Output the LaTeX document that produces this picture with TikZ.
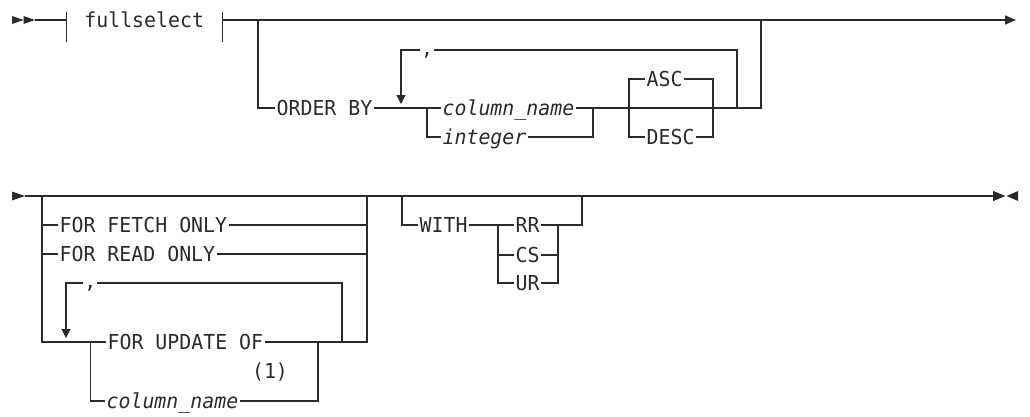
\documentclass[tikz,border=0pt]{standalone}
\usepackage{fontspec}
\setmonofont{DejaVu Sans Mono}[FakeStretch=0.965]
\usepackage{tikz}
\usetikzlibrary{arrows.meta,calc}
\definecolor{ink}{HTML}{2B2B2B}

\begin{document}
\begin{tikzpicture}[x=1pt,y=-1pt,color=ink,line width=1.2pt,
  kw/.style={font=\fontsize{20.6}{23}\selectfont\ttfamily,inner xsep=1pt,inner ysep=0pt,
             text height=15pt,text depth=0pt,anchor=west},
  var/.style={kw,font=\fontsize{20.6}{23}\selectfont\ttfamily\itshape},
  sep/.style={kw,text height=11pt,inner xsep=0.5pt},
  tip/.style={-{Triangle[length=9pt,width=9pt]}},
  endtip/.style={-{Triangle[length=11pt,width=9pt]}}]
\useasboundingbox (0,0) rectangle (1030,416);

% first row
\coordinate (s1) at (35,20);
\node[kw,anchor=center,minimum width=155pt,inner xsep=0pt] (fs) at (144.2,20) {fullselect};
\coordinate (b1) at (258,20);
\coordinate (x1) at (761,20);
\coordinate (e1) at (1016,20);
\node[kw] (ob) at (275,108) {ORDER BY};
\coordinate (ch1) at (427,108);
\node[var] (cn) at (441,108) {column\_name};
\node[var] (int) at (441,137) {integer};
\coordinate (ch2) at (593,108);
\coordinate (ad1) at (629,108);
\node[kw] (asc) at (645,79) {ASC};
\node[kw] (desc) at (645,137) {DESC};
\coordinate (ad2) at (713,108);
\coordinate (lp1) at (737,108);
\coordinate (x2) at (761,108);
\node[sep] (cm1) at (420,50) {,};
\coordinate (ar1) at (401,104);

\fill (s1) -- ++(-11.5,-4) -- ++(0,8) -- cycle;
\fill ($(s1)+(-11.5,0)$) -- ++(-11.5,-4) -- ++(0,8) -- cycle;
\draw (s1) -- (fs.west) (fs.west) ++(0,-8) -- ++(0,30);
\draw (fs.east) ++(0,-8) -- ++(0,30);
\draw[endtip] (fs.east) -- (e1);
\draw (b1) |- (ob.west);
\draw (ob.east) -- (ch1) -- (cn.west);
\draw (ch1) |- (int.west);
\draw (cn.east) -- (ch2);
\draw (int.east) -| (ch2);
\draw (ch2) -- (x2) -- (x1);
\draw (ad1) |- (asc.west) (ad1) |- (desc.west);
\draw (asc.east) -| (ad2) (desc.east) -| (ad2);
\draw (lp1) |- (cm1.east);
\draw[tip] (cm1.west) -| (ar1);

% second row
\coordinate (s2) at (25,196);
\coordinate (e2) at (1005.5,196);
\coordinate (l2) at (42,196);
\coordinate (r2) at (367,196);
\node[kw] (fetch) at (58,225) {FOR FETCH ONLY};
\node[kw] (read) at (58,254) {FOR READ ONLY};
\node[kw] (upd) at (106,342) {FOR UPDATE OF};
\node[var] (cn2) at (105,401) {column\_name};
\node[kw,anchor=center] (fn) at (270,371) {(1)};
\coordinate (j2) at (90.7,342);
\coordinate (k2) at (318,342);
\coordinate (lp2) at (342,342);
\coordinate (rb) at (367,342);
\node[sep] (cm2) at (83.3,283) {,};
\coordinate (ar2) at (66,338);
\coordinate (w1) at (402,196);
\node[kw] (with) at (418,225) {WITH};
\coordinate (w2) at (498,225);
\node[kw] (rr) at (514,225) {RR};
\node[kw] (cs) at (514,255) {CS};
\node[kw] (ur) at (514,283) {UR};
\coordinate (w3) at (558,225);
\coordinate (w4) at (582,196);

\fill (s2) -- ++(-13,-4.5) -- ++(0,9) -- cycle;
\draw[-{Triangle[length=12.5pt,width=10pt]}] (s2) -- (e2);
\fill (e2) ++(1,0) -- ++(11.5,-5) -- ++(0,10) -- cycle;
\draw (l2) |- (fetch.west) (l2) |- (read.west) (l2) |- (upd.west);
\draw (fetch.east) -| (r2) (read.east) -| (r2);
\draw (j2) |- (cn2.west);
\draw (upd.east) -- (k2) -- (lp2) -- (rb) -- (r2);
\draw (cn2.east) -| (k2);
\draw (lp2) |- (cm2.east);
\draw[tip] (cm2.west) -| (ar2);
\draw (w1) |- (with.west);
\draw (with.east) -- (w2) -- (rr.west) (w2) |- (cs.west) (w2) |- (ur.west);
\draw (rr.east) -- (w3) -| (w4);
\draw (cs.east) -| (w3) (ur.east) -| (w3);
\end{tikzpicture}
\end{document}
